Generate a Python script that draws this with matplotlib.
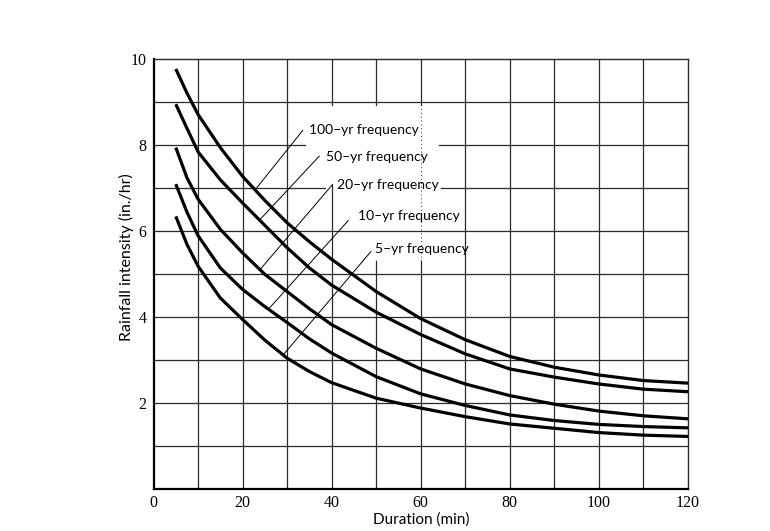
import numpy as np
import matplotlib
matplotlib.use('Agg')
from matplotlib import pyplot as plt

# duration (min) and rainfall intensity (in./hr)
duration = [5, 7.5, 10, 15, 20, 25, 30, 35, 40, 50, 60, 70, 80, 90, 100, 110, 120]
yr100 = [9.78, 9.22, 8.72, 7.95, 7.28, 6.72, 6.20, 5.76, 5.35, 4.60, 3.97, 3.48, 3.09, 2.84, 2.66, 2.53, 2.47]
yr50 = [8.96, 8.40, 7.85, 7.20, 6.66, 6.14, 5.62, 5.15, 4.75, 4.12, 3.60, 3.15, 2.80, 2.61, 2.45, 2.33, 2.27]
yr20 = [7.95, 7.25, 6.75, 6.05, 5.50, 5.00, 4.60, 4.20, 3.83, 3.28, 2.80, 2.45, 2.18, 1.98, 1.82, 1.71, 1.64]
yr10 = [7.10, 6.45, 5.90, 5.15, 4.65, 4.25, 3.88, 3.50, 3.17, 2.62, 2.22, 1.95, 1.73, 1.60, 1.51, 1.46, 1.43]
yr5 = [6.35, 5.70, 5.19, 4.45, 3.95, 3.47, 3.05, 2.74, 2.48, 2.12, 1.89, 1.69, 1.52, 1.42, 1.32, 1.26, 1.23]

series = [yr100, yr50, yr20, yr10, yr5]
labels = ['100–yr frequency', '50–yr frequency', '20–yr frequency',
          '10–yr frequency', '5–yr frequency']
# where each leader line touches its curve (duration)
leader_at = [22.8, 23.8, 23.9, 25.8, 29.1]

xticks = [0, 20, 40, 60, 80, 100, 120]
yticks = [2, 4, 6, 8, 10]

fig = plt.figure(figsize=(7.7, 5.31), dpi=100)
ax = fig.add_axes([0.1994, 0.0785, 0.6941, 0.8095])
ax.set_xlim(0, 120)
ax.set_ylim(0, 10)

gcol = '#2a2a2a'
glw = 0.9

# grid, with the gaps left white behind the labels
hgaps = {8: [(34.0, 64.0)], 7: [(38.6, 64.6)]}
vgaps = {40: [(7.1, 8.95)], 50: [(5.3, 8.95)], 60: [(5.3, 8.95)]}

def segments(lo, hi, gaps):
   segs = []
   start = lo
   for a, b in gaps:
      segs.append((start, a))
      start = b
   segs.append((start, hi))
   return segs

for yv in range(1, 10):
   for a, b in segments(0, 120, hgaps.get(yv, [])):
      ax.plot([a, b], [yv, yv], color=gcol, lw=glw, zorder=1)
for xv in range(10, 120, 10):
   for a, b in segments(0, 10, vgaps.get(xv, [])):
      ax.plot([xv, xv], [a, b], color=gcol, lw=glw, zorder=1)
# the 60-min line only shows faintly through the label area
ax.plot([60, 60], [5.3, 8.95], color=gcol, lw=0.7, ls=(0, (1, 3)), zorder=1)

for vals in series:
   ax.plot(duration, vals, color='black', lw=2.3, zorder=3, solid_capstyle='butt')

# leader lines and labels
tops = [(33.5, 8.35), (37.2, 7.75), (40.0, 7.07), (43.7, 6.25), (48.8, 5.53)]
text_pos = [(34.8, 8.35), (38.7, 7.73), (41.1, 7.09), (45.8, 6.35), (49.7, 5.60)]
for vals, lab, xb, top, tp in zip(series, labels, leader_at, tops, text_pos):
   yb = np.interp(xb, duration, vals)
   ax.plot([xb, top[0]], [yb, top[1]], color='black', lw=0.7, zorder=2)
   ax.text(tp[0], tp[1], lab, fontsize=10, family=['Lato', 'DejaVu Sans'],
         ha='left', va='center', zorder=4)

ax.set_xticks(xticks)
ax.set_yticks(yticks)
ax.tick_params(length=0, labelsize=11.5)
ax.tick_params(axis='x', pad=4)
ax.tick_params(axis='y', pad=5)
for t in ax.get_xticklabels() + ax.get_yticklabels():
   t.set_family(['Liberation Serif', 'DejaVu Serif'])
for side in ['top', 'right']:
   ax.spines[side].set_linewidth(1.0)
   ax.spines[side].set_color(gcol)
for side in ['left', 'bottom']:
   ax.spines[side].set_linewidth(1.6)

ax.set_xlabel('Duration (min)', fontsize=11, family=['Lato', 'DejaVu Sans'], labelpad=1)
ax.set_ylabel('Rainfall intensity (in./hr)', fontsize=11.5, family=['Lato', 'DejaVu Sans'])
ax.yaxis.set_label_coords(-0.037, 0.54)

fig.savefig('out.png', dpi=100, facecolor='white')
